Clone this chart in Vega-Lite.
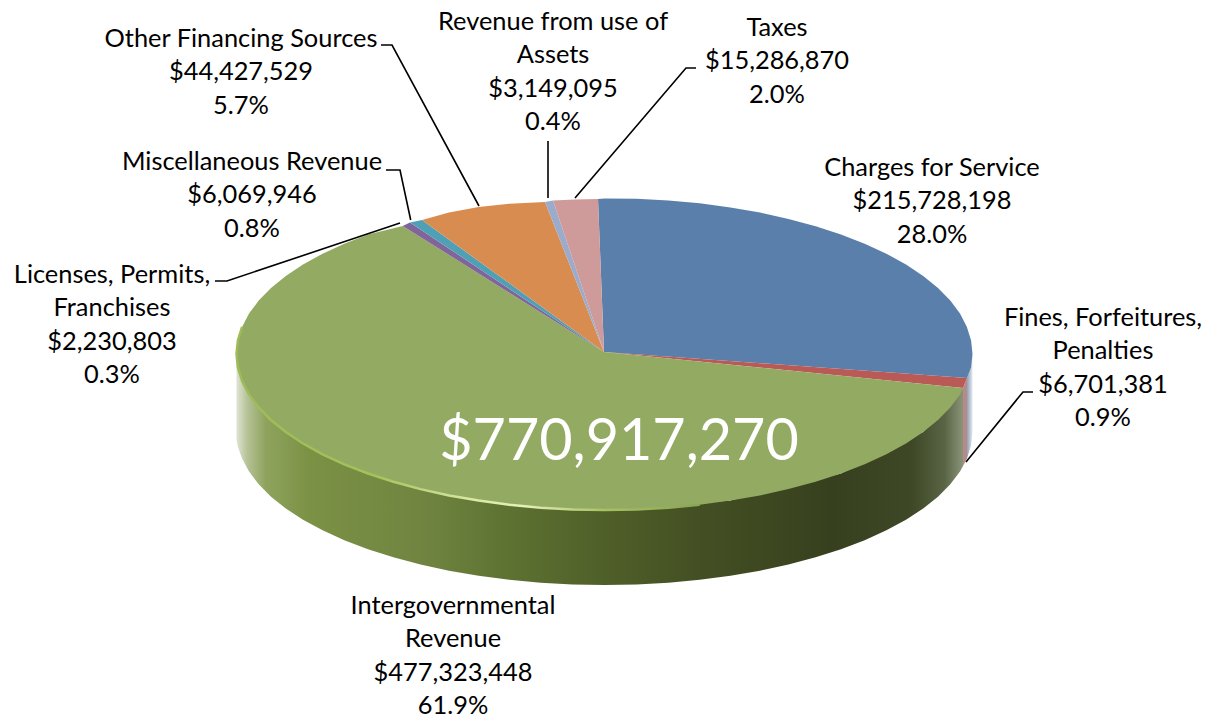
{"$schema":"https://vega.github.io/schema/vega-lite/v6.json","width":1211,"height":718,"padding":0,"autosize":"none","background":"white","view":{"stroke":null},
"datasets":{
"wedges":[
{"s":"Charges for Service","o":0,"x":604,"y":352},{"s":"Charges for Service","o":1,"x":598,"y":199},{"s":"Charges for Service","o":2,"x":604.5,"y":198.5},{"s":"Charges for Service","o":3,"x":636.6,"y":198.8},{"s":"Charges for Service","o":4,"x":668.4,"y":200.4},{"s":"Charges for Service","o":5,"x":699.7,"y":203.3},{"s":"Charges for Service","o":6,"x":730.4,"y":207.4},{"s":"Charges for Service","o":7,"x":760,"y":212.6},{"s":"Charges for Service","o":8,"x":788.5,"y":218.9},{"s":"Charges for Service","o":9,"x":815.6,"y":226.2},{"s":"Charges for Service","o":10,"x":841,"y":234.5},{"s":"Charges for Service","o":11,"x":864.7,"y":243.7},{"s":"Charges for Service","o":12,"x":886.4,"y":253.7},{"s":"Charges for Service","o":13,"x":906,"y":264.5},{"s":"Charges for Service","o":14,"x":923.2,"y":276},{"s":"Charges for Service","o":15,"x":938,"y":288.1},{"s":"Charges for Service","o":16,"x":950.3,"y":300.6},{"s":"Charges for Service","o":17,"x":960,"y":313.6},{"s":"Charges for Service","o":18,"x":966.9,"y":326.9},{"s":"Charges for Service","o":19,"x":971.1,"y":340.4},{"s":"Charges for Service","o":20,"x":972.5,"y":354},{"s":"Charges for Service","o":21,"x":971.1,"y":367.6},{"s":"Charges for Service","o":22,"x":967,"y":378},
{"s":"Fines, Forfeitures, Penalties","o":0,"x":604,"y":352},{"s":"Fines, Forfeitures, Penalties","o":1,"x":967,"y":378},{"s":"Fines, Forfeitures, Penalties","o":2,"x":963,"y":388},
{"s":"Intergovernmental Revenue","o":0,"x":604,"y":352},{"s":"Intergovernmental Revenue","o":1,"x":963,"y":388},{"s":"Intergovernmental Revenue","o":2,"x":960,"y":394.4},{"s":"Intergovernmental Revenue","o":3,"x":950.3,"y":407.4},{"s":"Intergovernmental Revenue","o":4,"x":938,"y":420},{"s":"Intergovernmental Revenue","o":5,"x":923.2,"y":432},{"s":"Intergovernmental Revenue","o":6,"x":906,"y":443.5},{"s":"Intergovernmental Revenue","o":7,"x":886.4,"y":454.3},{"s":"Intergovernmental Revenue","o":8,"x":864.7,"y":464.3},{"s":"Intergovernmental Revenue","o":9,"x":841,"y":473.5},{"s":"Intergovernmental Revenue","o":10,"x":815.6,"y":481.8},{"s":"Intergovernmental Revenue","o":11,"x":788.5,"y":489.1},{"s":"Intergovernmental Revenue","o":12,"x":760,"y":495.4},{"s":"Intergovernmental Revenue","o":13,"x":730.4,"y":500.6},{"s":"Intergovernmental Revenue","o":14,"x":699.7,"y":504.7},{"s":"Intergovernmental Revenue","o":15,"x":668.4,"y":507.7},{"s":"Intergovernmental Revenue","o":16,"x":636.6,"y":509.4},{"s":"Intergovernmental Revenue","o":17,"x":604.5,"y":510},{"s":"Intergovernmental Revenue","o":18,"x":572.4,"y":509.4},{"s":"Intergovernmental Revenue","o":19,"x":540.6,"y":507.7},{"s":"Intergovernmental Revenue","o":20,"x":509.3,"y":504.7},{"s":"Intergovernmental Revenue","o":21,"x":478.6,"y":500.6},{"s":"Intergovernmental Revenue","o":22,"x":449,"y":495.4},{"s":"Intergovernmental Revenue","o":23,"x":420.5,"y":489.1},{"s":"Intergovernmental Revenue","o":24,"x":393.4,"y":481.8},{"s":"Intergovernmental Revenue","o":25,"x":368,"y":473.5},{"s":"Intergovernmental Revenue","o":26,"x":344.3,"y":464.3},{"s":"Intergovernmental Revenue","o":27,"x":322.6,"y":454.3},{"s":"Intergovernmental Revenue","o":28,"x":303,"y":443.5},{"s":"Intergovernmental Revenue","o":29,"x":285.8,"y":432},{"s":"Intergovernmental Revenue","o":30,"x":271,"y":420},{"s":"Intergovernmental Revenue","o":31,"x":258.7,"y":407.4},{"s":"Intergovernmental Revenue","o":32,"x":249,"y":394.4},{"s":"Intergovernmental Revenue","o":33,"x":242.1,"y":381},{"s":"Intergovernmental Revenue","o":34,"x":237.9,"y":367.6},{"s":"Intergovernmental Revenue","o":35,"x":236.5,"y":354},{"s":"Intergovernmental Revenue","o":36,"x":237.9,"y":340.4},{"s":"Intergovernmental Revenue","o":37,"x":242.1,"y":326.9},{"s":"Intergovernmental Revenue","o":38,"x":249,"y":313.6},{"s":"Intergovernmental Revenue","o":39,"x":258.7,"y":300.6},{"s":"Intergovernmental Revenue","o":40,"x":271,"y":288.1},{"s":"Intergovernmental Revenue","o":41,"x":285.8,"y":276},{"s":"Intergovernmental Revenue","o":42,"x":303,"y":264.5},{"s":"Intergovernmental Revenue","o":43,"x":322.6,"y":253.7},{"s":"Intergovernmental Revenue","o":44,"x":344.3,"y":243.7},{"s":"Intergovernmental Revenue","o":45,"x":368,"y":234.5},{"s":"Intergovernmental Revenue","o":46,"x":402.7,"y":226},
{"s":"Licenses, Permits, Franchises","o":0,"x":604,"y":352},{"s":"Licenses, Permits, Franchises","o":1,"x":402.7,"y":226},{"s":"Licenses, Permits, Franchises","o":2,"x":410,"y":222.5},
{"s":"Miscellaneous Revenue","o":0,"x":604,"y":352},{"s":"Miscellaneous Revenue","o":1,"x":410,"y":222.5},{"s":"Miscellaneous Revenue","o":2,"x":422,"y":220},
{"s":"Other Financing Sources","o":0,"x":604,"y":352},{"s":"Other Financing Sources","o":1,"x":422,"y":220},{"s":"Other Financing Sources","o":2,"x":449,"y":212.6},{"s":"Other Financing Sources","o":3,"x":478.6,"y":207},{"s":"Other Financing Sources","o":4,"x":509.3,"y":203.8},{"s":"Other Financing Sources","o":5,"x":545,"y":202},
{"s":"Revenue from use of Assets","o":0,"x":604,"y":352},{"s":"Revenue from use of Assets","o":1,"x":545,"y":202},{"s":"Revenue from use of Assets","o":2,"x":553,"y":200.5},
{"s":"Taxes","o":0,"x":604,"y":352},{"s":"Taxes","o":1,"x":553,"y":200.5},{"s":"Taxes","o":2,"x":575,"y":199.5},{"s":"Taxes","o":3,"x":598,"y":199}
],
"sideGreen":[
{"o":0,"x":236.5,"y":354},{"o":1,"x":237.9,"y":367.6},{"o":2,"x":242.1,"y":381},{"o":3,"x":249,"y":394.4},{"o":4,"x":258.7,"y":407.4},{"o":5,"x":271,"y":420},{"o":6,"x":285.8,"y":432},{"o":7,"x":303,"y":443.5},{"o":8,"x":322.6,"y":454.3},{"o":9,"x":344.3,"y":464.3},{"o":10,"x":368,"y":473.5},{"o":11,"x":393.4,"y":481.8},{"o":12,"x":420.5,"y":489.1},{"o":13,"x":449,"y":495.4},{"o":14,"x":478.6,"y":500.6},{"o":15,"x":604.5,"y":510},{"o":16,"x":730.4,"y":500.6},{"o":17,"x":841,"y":473.5},{"o":18,"x":923.2,"y":432},{"o":19,"x":963,"y":388},
{"o":20,"x":963,"y":466},{"o":21,"x":960,"y":471.6},{"o":22,"x":950.3,"y":484.3},{"o":23,"x":938,"y":496.7},{"o":24,"x":923.2,"y":508.5},{"o":25,"x":906,"y":519.8},{"o":26,"x":886.4,"y":530.3},{"o":27,"x":864.7,"y":540.2},{"o":28,"x":841,"y":549.2},{"o":29,"x":815.6,"y":557.3},{"o":30,"x":788.5,"y":564.5},{"o":31,"x":760,"y":570.7},{"o":32,"x":730.4,"y":575.8},{"o":33,"x":699.7,"y":579.8},{"o":34,"x":668.4,"y":582.7},{"o":35,"x":636.6,"y":584.4},{"o":36,"x":604.5,"y":585},{"o":37,"x":572.4,"y":584.4},{"o":38,"x":540.6,"y":582.7},{"o":39,"x":509.3,"y":579.8},{"o":40,"x":478.6,"y":575.8},{"o":41,"x":449,"y":570.7},{"o":42,"x":420.5,"y":564.5},{"o":43,"x":393.4,"y":557.3},{"o":44,"x":368,"y":549.2},{"o":45,"x":344.3,"y":540.2},{"o":46,"x":322.6,"y":530.3},{"o":47,"x":303,"y":519.8},{"o":48,"x":285.8,"y":508.5},{"o":49,"x":271,"y":496.7},{"o":50,"x":258.7,"y":484.3},{"o":51,"x":249,"y":471.6},{"o":52,"x":242.1,"y":458.6},{"o":53,"x":237.9,"y":447},{"o":54,"x":236.5,"y":440}
],
"sideRed":[{"o":0,"x":963,"y":388},{"o":1,"x":967,"y":378},{"o":2,"x":967,"y":458.6},{"o":3,"x":963,"y":466}],
"sideBlue":[{"o":0,"x":967,"y":378},{"o":1,"x":971.1,"y":367.6},{"o":2,"x":972.5,"y":354},{"o":3,"x":972.5,"y":432},{"o":4,"x":971.1,"y":445.3},{"o":5,"x":967,"y":458.6}],
"rim":[{"o":-3,"x":242.1,"y":326.9},{"o":-2,"x":237.9,"y":340.4},{"o":-1,"x":236.5,"y":354},{"o":1,"x":237.9,"y":367.6},{"o":2,"x":242.1,"y":381},{"o":3,"x":249,"y":394.4},{"o":4,"x":258.7,"y":407.4},{"o":5,"x":271,"y":420},{"o":6,"x":285.8,"y":432},{"o":7,"x":303,"y":443.5},{"o":8,"x":322.6,"y":454.3},{"o":9,"x":344.3,"y":464.3},{"o":10,"x":368,"y":473.5},{"o":11,"x":393.4,"y":481.8},{"o":12,"x":420.5,"y":489.1},{"o":13,"x":449,"y":495.4},{"o":14,"x":478.6,"y":500.6},{"o":15,"x":509.3,"y":504.7},{"o":16,"x":540.6,"y":507.7},{"o":17,"x":572.4,"y":509.4},{"o":18,"x":604.5,"y":510},{"o":19,"x":636.6,"y":509.4},{"o":20,"x":668.4,"y":507.7},{"o":21,"x":699.7,"y":504.7}],
"leaders":[
{"l":"Other","o":0,"x":381,"y":45},{"l":"Other","o":1,"x":392,"y":45},{"l":"Other","o":2,"x":479,"y":206},
{"l":"Misc","o":0,"x":386,"y":170},{"l":"Misc","o":1,"x":400,"y":170},{"l":"Misc","o":2,"x":410.7,"y":220},
{"l":"Use","o":0,"x":548,"y":141},{"l":"Use","o":1,"x":548,"y":198},
{"l":"Taxes","o":0,"x":696,"y":68},{"l":"Taxes","o":1,"x":686,"y":68},{"l":"Taxes","o":2,"x":575,"y":198},
{"l":"Licenses","o":0,"x":215,"y":281},{"l":"Licenses","o":1,"x":227,"y":281},{"l":"Licenses","o":2,"x":400,"y":223},
{"l":"Fines","o":0,"x":1033,"y":392},{"l":"Fines","o":1,"x":1023,"y":392},{"l":"Fines","o":2,"x":966,"y":462}
],
"labels":[
{"t":"Other Financing Sources\n$44,427,529\n5.7%","x":241,"y":27},
{"t":"Revenue from use of\nAssets\n$3,149,095\n0.4%","x":553,"y":10},
{"t":"Taxes\n$15,286,870\n2.0%","x":777,"y":16},
{"t":"Charges for Service\n$215,728,198\n28.0%","x":932,"y":156},
{"t":"Fines, Forfeitures,\nPenalties\n$6,701,381\n0.9%","x":1103,"y":306},
{"t":"Miscellaneous Revenue\n$6,069,946\n0.8%","x":252,"y":150},
{"t":"Licenses, Permits,\nFranchises\n$2,230,803\n0.3%","x":112,"y":263},
{"t":"Intergovernmental\nRevenue\n$477,323,448\n61.9%","x":453,"y":594}
],
"total":[{"t":"$770,917,270","x":619,"y":443}]
},
"encoding":{
"x":{"field":"x","type":"quantitative","scale":{"domain":[0,1211],"nice":false,"zero":false},"axis":null},
"y":{"field":"y","type":"quantitative","scale":{"domain":[718,0],"nice":false,"zero":false},"axis":null}
},
"layer":[
{"data":{"name":"sideGreen"},"mark":{"type":"line","filled":true,"strokeWidth":0,"fill":{"gradient":"linear","x1":0,"y1":0,"x2":1,"y2":0,"stops":[{"offset":0,"color":"#dfe4d3"},{"offset":0.015,"color":"#b5c296"},{"offset":0.04,"color":"#8fa35e"},{"offset":0.1,"color":"#7b9144"},{"offset":0.27,"color":"#6f8340"},{"offset":0.36,"color":"#5f7433"},{"offset":0.5,"color":"#506029"},{"offset":0.64,"color":"#434f23"},{"offset":0.82,"color":"#37401e"},{"offset":0.93,"color":"#3e4826"},{"offset":0.975,"color":"#5a6546"},{"offset":1,"color":"#8a9478"}]}},"encoding":{"order":{"field":"o"}}},
{"data":{"name":"sideRed"},"mark":{"type":"line","filled":true,"strokeWidth":0,"fill":"#b78a88"},"encoding":{"order":{"field":"o"}}},
{"data":{"name":"sideBlue"},"mark":{"type":"line","filled":true,"strokeWidth":0,"fill":{"gradient":"linear","x1":0,"y1":0,"x2":1,"y2":0,"stops":[{"offset":0,"color":"#8fa0b8"},{"offset":1,"color":"#e4e9ef"}]}},"encoding":{"order":{"field":"o"}}},
{"data":{"name":"wedges"},"mark":{"type":"line","filled":true,"strokeWidth":0},"encoding":{"order":{"field":"o"},"color":{"field":"s","type":"nominal","legend":null,"scale":{"domain":["Charges for Service","Fines, Forfeitures, Penalties","Intergovernmental Revenue","Licenses, Permits, Franchises","Miscellaneous Revenue","Other Financing Sources","Revenue from use of Assets","Taxes"],"range":["#5b7fab","#b95a57","#93aa62","#80659a","#50a0b5","#d98c4f","#9aabcc","#cf9a9a"]}}}},
{"data":{"name":"rim"},"mark":{"type":"line","strokeWidth":2.5,"stroke":{"gradient":"linear","x1":0,"y1":0,"x2":1,"y2":0,"stops":[{"offset":0,"color":"#9dbb58"},{"offset":0.3,"color":"#a3c25c"},{"offset":0.5,"color":"#d8e8a0"},{"offset":0.62,"color":"#e6f0b8"},{"offset":0.8,"color":"#a6c060"},{"offset":1,"color":"#8aa656"}]}},"encoding":{"order":{"field":"o"}}},
{"data":{"name":"leaders"},"mark":{"type":"line","stroke":"#000000","strokeWidth":1.6},"encoding":{"order":{"field":"o"},"detail":{"field":"l"}}},
{"data":{"name":"labels"},"mark":{"type":"text","font":"Lato","fontSize":25.4,"lineHeight":33.3,"lineBreak":"\n","align":"center","baseline":"top","color":"#000000"},"encoding":{"text":{"field":"t"}}},
{"data":{"name":"total"},"mark":{"type":"text","font":"Lato","fontSize":57.5,"align":"center","baseline":"middle","color":"#ffffff"},"encoding":{"text":{"field":"t"}}}
]}
